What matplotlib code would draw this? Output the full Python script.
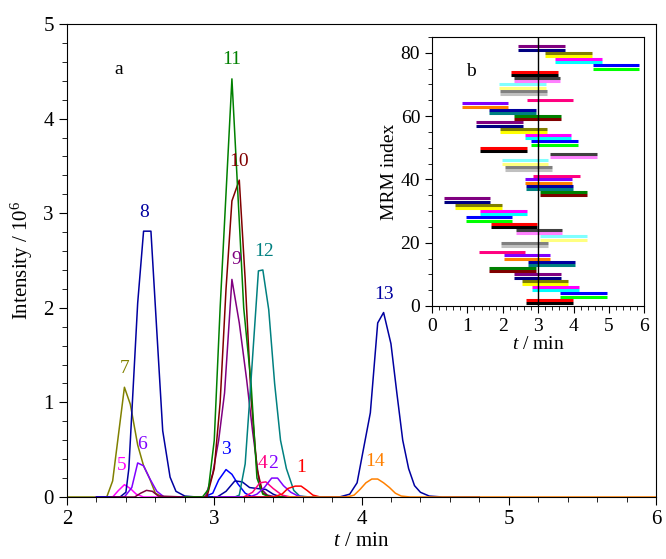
import numpy as np
import matplotlib
matplotlib.use("Agg")
import matplotlib.pyplot as plt
from matplotlib.ticker import MultipleLocator

plt.rcParams['font.family'] = ['Liberation Serif', 'DejaVu Serif']
plt.rcParams['mathtext.fontset'] = 'custom'
plt.rcParams['mathtext.rm'] = 'Liberation Serif'
plt.rcParams['mathtext.it'] = 'Liberation Serif:italic'

# ---- chromatogram data (t in min, intensity in 10^6) ----
peak_ids = ['7', '5', '6', '8', 'x1', '3', 'x2', '9', '10', '11', '12', '4', '2', '1', '13', '14']
peak_t = {
    '7':  [2.0, 2.22, 2.27, 2.31, 2.39, 2.43, 2.48, 2.52, 2.56, 2.60, 2.65, 2.9],
    '5':  [2.2, 2.31, 2.35, 2.39, 2.43, 2.47, 2.52, 2.7],
    '6':  [2.2, 2.39, 2.44, 2.48, 2.52, 2.56, 2.61, 2.66, 2.8],
    '8':  [2.2, 2.36, 2.40, 2.42, 2.48, 2.52, 2.57, 2.61, 2.65, 2.70, 2.74, 2.80, 2.88, 3.0],
    'x1': [2.3, 2.46, 2.50, 2.54, 2.58, 2.62, 2.8],
    '3':  [2.8, 2.93, 2.99, 3.03, 3.08, 3.12, 3.16, 3.21, 3.26, 3.4],
    'x2': [2.9, 3.02, 3.08, 3.14, 3.19, 3.24, 3.29, 3.35, 3.40, 3.45, 3.6],
    '9':  [2.8, 2.94, 2.99, 3.03, 3.07, 3.12, 3.17, 3.22, 3.26, 3.31, 3.36, 3.42, 3.6],
    '10': [2.8, 2.95, 3.00, 3.04, 3.08, 3.12, 3.17, 3.21, 3.25, 3.29, 3.33, 3.38, 3.6],
    '11': [2.8, 2.92, 2.96, 3.00, 3.04, 3.12, 3.16, 3.20, 3.25, 3.29, 3.33, 3.38, 3.6],
    '12': [3.0, 3.14, 3.17, 3.21, 3.25, 3.30, 3.33, 3.37, 3.41, 3.45, 3.49, 3.54, 3.58, 3.65, 3.8],
    '4':  [3.0, 3.20, 3.26, 3.31, 3.35, 3.40, 3.46, 3.52, 3.7],
    '2':  [3.0, 3.24, 3.29, 3.34, 3.39, 3.43, 3.47, 3.52, 3.57, 3.62, 3.8],
    '1':  [3.2, 3.40, 3.46, 3.50, 3.55, 3.59, 3.63, 3.67, 3.72, 3.9],
    '13': [3.6, 3.85, 3.92, 3.97, 4.01, 4.06, 4.11, 4.15, 4.20, 4.24, 4.28, 4.32, 4.36, 4.40, 4.46, 4.55, 4.8],
    '14': [3.5, 3.90, 3.95, 3.99, 4.03, 4.07, 4.11, 4.15, 4.19, 4.23, 4.27, 4.33, 6.0],
}
peak_i = {
    '7':  [0, 0, 0, 0.17, 1.16, 0.98, 0.55, 0.33, 0.20, 0.04, 0, 0],
    '5':  [0, 0, 0.07, 0.13, 0.09, 0.03, 0, 0],
    '6':  [0, 0, 0.10, 0.36, 0.33, 0.20, 0.06, 0, 0],
    '8':  [0, 0, 0.05, 0.30, 2.05, 2.81, 2.81, 1.75, 0.70, 0.21, 0.06, 0.01, 0, 0],
    'x1': [0, 0, 0.04, 0.07, 0.06, 0.01, 0],
    '3':  [0, 0, 0.04, 0.18, 0.29, 0.24, 0.14, 0.04, 0, 0],
    'x2': [0, 0, 0.06, 0.17, 0.16, 0.10, 0.09, 0.08, 0.03, 0, 0],
    '9':  [0, 0, 0.25, 0.60, 1.10, 2.30, 1.84, 1.24, 0.70, 0.10, 0.02, 0, 0],
    '10': [0, 0, 0.30, 1.00, 2.20, 3.13, 3.35, 2.30, 1.05, 0.30, 0.04, 0, 0],
    '11': [0, 0, 0.08, 0.60, 2.00, 4.42, 3.22, 2.00, 1.20, 0.20, 0.03, 0, 0],
    '12': [0, 0, 0.02, 0.35, 1.24, 2.39, 2.40, 1.98, 1.20, 0.60, 0.30, 0.07, 0.01, 0, 0],
    '4':  [0, 0, 0.05, 0.15, 0.16, 0.09, 0.02, 0, 0],
    '2':  [0, 0, 0.03, 0.10, 0.20, 0.20, 0.12, 0.05, 0.01, 0, 0],
    '1':  [0, 0, 0.03, 0.09, 0.115, 0.115, 0.07, 0.02, 0, 0],
    '13': [0, 0, 0.03, 0.15, 0.48, 0.89, 1.84, 1.95, 1.62, 1.10, 0.60, 0.30, 0.12, 0.05, 0.01, 0, 0],
    '14': [0, 0, 0.02, 0.08, 0.15, 0.19, 0.19, 0.15, 0.10, 0.04, 0.01, 0, 0],
}
peak_color = {
    '1': '#FF0000', '2': '#8000FF', '3': '#0000FF', '4': '#FF0080', '5': '#FF00FF',
    '6': '#8000FF', '7': '#808000', '8': '#0000A0', '9': '#800080', '10': '#800000',
    '11': '#008000', '12': '#008080', '13': '#0000A0', '14': '#FF8000',
    'x1': '#800040', 'x2': '#0000A0',
}
# label positions (t, intensity)
label_pos = {
    '1': (3.59, 0.22), '3': (3.08, 0.41), '5': (2.37, 0.24), '6': (2.51, 0.46),
    '7': (2.39, 1.27), '8': (2.525, 2.92), '9': (3.15, 2.42), '10': (3.17, 3.46),
    '11': (3.12, 4.53), '12': (3.34, 2.51), '13': (4.15, 2.05), '14': (4.09, 0.29),
}

# ---- MRM windows (inset b), one entry per transition pair ----
pair_start = [2.66, 3.61, 2.83, 2.53, 2.33, 1.62, 2.72, 2.03, 1.32, 1.96, 3.06, 2.37, 1.66, 0.96,
              1.36, 0.66, 0.34, 3.06, 2.66, 2.64, 2.85, 2.07, 1.97, 3.33, 1.37, 2.81, 2.62, 1.92,
              1.25, 2.31, 1.62, 0.85, 2.67, 1.93, 1.90, 2.31, 2.23, 4.54, 3.48, 3.19, 2.44]
pair_end = [3.97, 4.93, 4.14, 3.84, 3.64, 2.94, 4.04, 3.34, 2.64, 3.28, 4.37, 3.68, 2.98, 2.27,
            2.68, 1.97, 1.65, 4.37, 3.97, 3.95, 4.17, 3.38, 3.29, 4.65, 2.68, 4.12, 3.94, 3.24,
            2.56, 3.64, 2.94, 2.16, 3.98, 3.25, 3.21, 3.62, 3.55, 5.85, 4.79, 4.51, 3.75]
origin_colors = ['#000000', '#FF0000', '#00FF00', '#0000FF', '#00FFFF', '#FF00FF', '#FFFF00',
                 '#808000', '#000080', '#800080', '#800000', '#008000', '#008080', '#0000A0',
                 '#FF8000', '#8000FF', '#FF0080', '#FFFFFF', '#C0C0C0', '#808080', '#FFFF80',
                 '#80FFFF', '#FF80FF', '#404040']

fig = plt.figure(figsize=(6.66, 5.59), dpi=100)
ax = fig.add_axes([67 / 666, 1 - 497 / 559, 589 / 666, 473 / 559])

for k in peak_ids:
    ax.plot(peak_t[k], peak_i[k], color=peak_color[k], lw=1.1)

for k, (tx, iy) in label_pos.items():
    ax.text(tx, iy, k, color=peak_color[k], fontsize=14, ha='center', va='bottom')
ax.text(3.33, 0.26, '4', color=peak_color['4'], fontsize=14, ha='center', va='bottom')
ax.text(3.40, 0.26, '2', color=peak_color['2'], fontsize=14, ha='center', va='bottom')
ax.text(2.35, 4.52, 'a', fontsize=14, ha='center', va='center')

ax.set_xlim(2, 6)
ax.set_ylim(0, 5)
ax.xaxis.set_major_locator(MultipleLocator(1))
ax.xaxis.set_minor_locator(MultipleLocator(0.2))
ax.yaxis.set_major_locator(MultipleLocator(1))
ax.yaxis.set_minor_locator(MultipleLocator(0.2))
ax.tick_params(which='both', direction='out', top=False, right=False, labelsize=15)
ax.tick_params(which='major', length=6)
ax.tick_params(which='minor', length=3.5)
ax.set_xlabel('$t$ / min', fontsize=15, labelpad=2)
ax.set_ylabel('Intensity / 10$^{6}$', fontsize=15, labelpad=6)

# inset
axb = fig.add_axes([432 / 666, 1 - 306 / 559, 212.4 / 666, 269 / 559])
idx = np.arange(1, 2 * len(pair_start) + 1)
starts = np.repeat(pair_start, 2)
ends = np.repeat(pair_end, 2)
cols = [origin_colors[(i - 1) % 24] for i in idx]
axb.hlines(idx, starts, ends, colors=cols, lw=2.2)
axb.axvline(3, color='black', lw=1.0)
axb.text(1.09, 74, 'b', fontsize=14, ha='center', va='center')
axb.set_xlim(0, 6)
axb.set_ylim(0, 85)
axb.xaxis.set_major_locator(MultipleLocator(1))
axb.xaxis.set_minor_locator(MultipleLocator(0.2))
axb.yaxis.set_major_locator(MultipleLocator(20))
axb.yaxis.set_minor_locator(MultipleLocator(5))
axb.tick_params(which='both', direction='out', top=False, right=False, labelsize=14)
axb.tick_params(which='major', length=5)
axb.tick_params(which='minor', length=3)
axb.set_xlabel('$t$ / min', fontsize=14, labelpad=1)
axb.set_ylabel('MRM index', fontsize=14, labelpad=2)

fig.savefig('out.png', dpi=100)
